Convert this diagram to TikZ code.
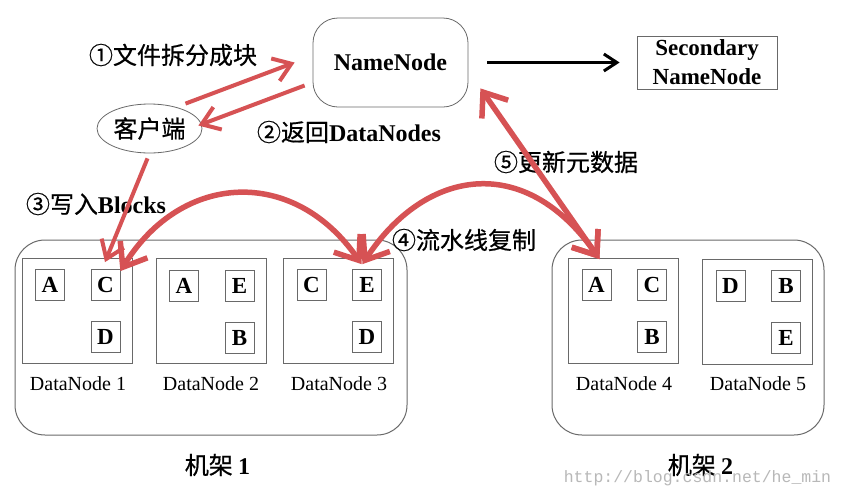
\documentclass[tikz,border=0pt]{standalone}
\usepackage{fontspec}
\setmainfont{Liberation Serif}
\newfontfamily\cjk[FakeBold=0.6]{Noto Sans CJK SC}
\newfontfamily\wmfont{Liberation Mono}
\usetikzlibrary{arrows.meta,shapes.geometric,calc}
\definecolor{arrred}{RGB}{214,82,84}
\definecolor{boxgray}{RGB}{105,105,105}
\begin{document}
\begin{tikzpicture}[x=1pt,y=-1pt,
  namebox/.style={draw=boxgray, line width=0.8pt, rounded corners=25pt, minimum width=155pt, minimum height=89pt, inner sep=0pt, font=\fontsize{24}{30}\selectfont\bfseries},
  secbox/.style={draw=boxgray, line width=0.8pt, minimum width=140pt, minimum height=53pt, inner sep=0pt, align=center, font=\fontsize{23}{29}\selectfont\bfseries},
  clientnode/.style={draw=boxgray, line width=0.8pt, ellipse, minimum width=105pt, minimum height=49pt, inner sep=0pt, font=\cjk\fontsize{24}{24}\selectfont},
  rack/.style={draw=boxgray, line width=1pt, rounded corners=30pt, inner sep=0pt},
  dnbox/.style={draw=boxgray, line width=1pt, minimum width=110pt, minimum height=105pt, inner sep=0pt},
  blk/.style={draw=boxgray, line width=0.8pt, minimum width=29pt, minimum height=31pt, inner sep=0pt, font=\fontsize{23}{23}\selectfont\bfseries},
  dnlabel/.style={inner sep=0pt, font=\fontsize{20}{20}\selectfont},
  steplabel/.style={inner sep=0pt, font=\cjk\fontsize{24}{24}\selectfont},
  racklabel/.style={inner sep=0pt, font=\cjk\fontsize{24}{24}\selectfont},
  redarr/.style={draw=arrred, line width=4pt, -{Straight Barb[length=17pt,width=24pt]}},
  bigred/.style={draw=arrred, line width=5.5pt, {Straight Barb[length=21pt,width=32pt]}-{Straight Barb[length=21pt,width=32pt]}},
  blackarr/.style={draw=black, line width=3pt, -{Straight Barb[length=13pt,width=17pt]}}
]
\useasboundingbox (0,0) rectangle (843,496);
\fill[white] (0,0) rectangle (843,496);

% top nodes
\node[namebox] (nn) at (390.5,62.5) {NameNode};
\node[secbox] (snn) at (707,62.5) {Secondary\\NameNode};
\node[clientnode] (client) at (149.5,128.5) {客户端};

% racks
\node[rack, minimum width=392pt, minimum height=195pt] (rack1) at (211,337.5) {};
\node[rack, minimum width=272pt, minimum height=195pt] (rack2) at (688,337.5) {};

% data nodes
\node[dnbox] (dn1) at (77,310.5) {};
\node[dnbox] (dn2) at (211,311) {};
\node[dnbox] (dn3) at (338.5,310.5) {};
\node[dnbox] (dn4) at (623.5,310.5) {};
\node[dnbox] (dn5) at (757.5,311.5) {};

% blocks
\foreach \d/\a/\b/\c in {dn1/A/C/D, dn2/A/E/B, dn3/C/E/D, dn4/A/C/B, dn5/D/B/E}{
  \node[blk] (\d tl) at ($(\d.north west)+(28.5,27.5)$) {\a};
  \node[blk] (\d tr) at ($(\d.north west)+(84,27.5)$) {\b};
  \node[blk] (\d br) at ($(\d.north west)+(84,79.5)$) {\c};
}

% labels
\node[dnlabel] (l1) at (78,384) {DataNode 1};
\node[dnlabel] (l2) at (211,384) {DataNode 2};
\node[dnlabel] (l3) at (339,384) {DataNode 3};
\node[dnlabel] (l4) at (624,384) {DataNode 4};
\node[dnlabel] (l5) at (758,384) {DataNode 5};
\node[racklabel] (r1) at (217.5,465) {机架 \textrm{\bfseries 1}};
\node[racklabel] (r2) at (700.5,465) {机架 \textrm{\bfseries 2}};

\node[steplabel] (s1) at (173,55) {①文件拆分成块};
\node[steplabel] (s2) at (349,132) {②返回\textrm{\bfseries DataNodes}};
\node[steplabel] (s3) at (96,204) {③写入\textrm{\bfseries Blocks}};
\node[steplabel] (s4) at (464,240) {④流水线复制};
\node[steplabel] (s5) at (566,162) {⑤更新元数据};

\node[inner sep=0pt, text=black!28, font=\wmfont\fontsize{16.5}{16.5}\selectfont] (wm) at (697.5,478) {http://blog.csdn.net/he\_min};

% arrows
\draw[blackarr] ($(nn.east)+(19,0)$) -- ($(snn.west)+(-17,0)$);
\draw[redarr] ($(client.north)+(36,0)$) -- ($(nn.west)+(-18,0)$);
\draw[redarr] ($(nn.west)+(-8,23)$) -- ($(client.east)+(-4,-3)$);
\draw[redarr] ($(client.south)+(-2,5)$) -- ($(dn1tr.north)+(-0.5,-7)$);

\draw[bigred] ($(dn1tr.north east)+(0,2)$) .. controls +(62,-100) and +(-67,-97) .. ($(dn3tr.north)+(-5.5,-5)$);
\draw[bigred] ($(dn3tr.north)+(-4.5,-5)$) .. controls +(62,-95) and +(-75,-108) .. ($(dn4tl.north)+(3,-10)$);
\draw[bigred] ($(nn.south east)+(12,-19)$) -- ($(dn4tl.north)+(3,-10)$);
\end{tikzpicture}
\end{document}
